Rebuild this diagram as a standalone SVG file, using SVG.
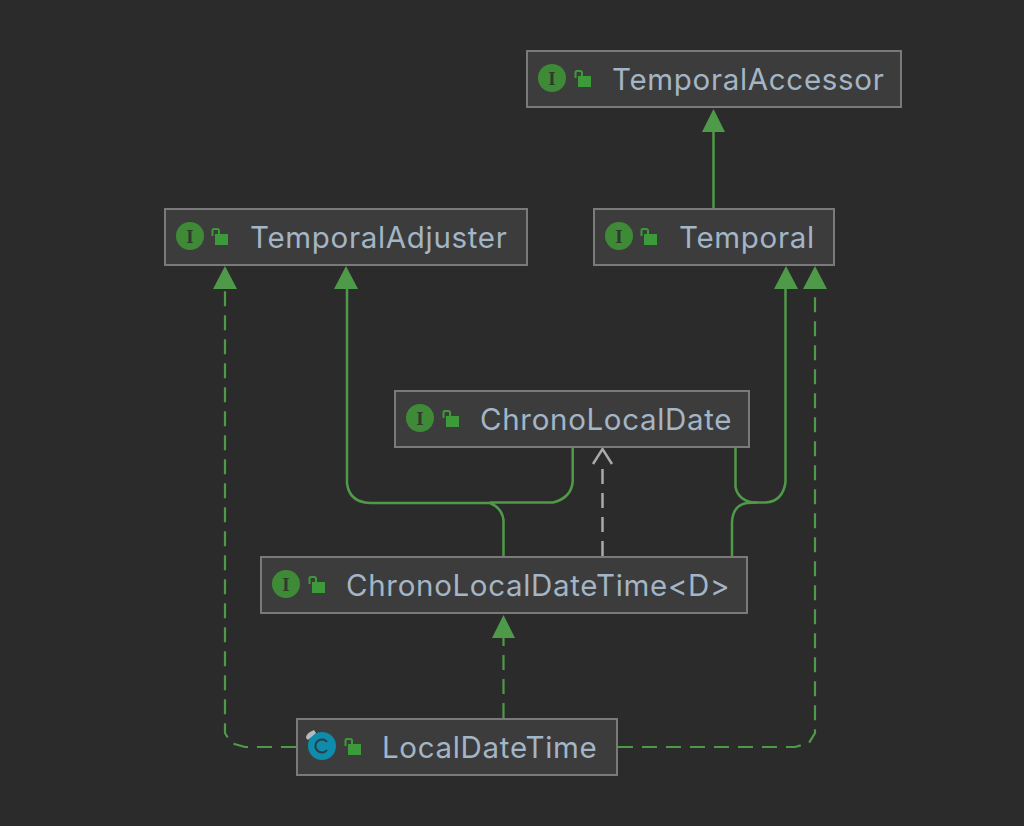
<svg xmlns="http://www.w3.org/2000/svg" width="1024" height="826" viewBox="0 0 1024 826">
<style>
.bg{fill:#2b2b2b}
.box{fill:#3c3c3c;stroke:#7a7a7a;stroke-width:2}
.t{font-family:"Inter","Liberation Sans",sans-serif;font-size:29.500px;fill:#a4b5c6;letter-spacing:.68px}
.ic{fill:#3f8a36}
.il{font-family:"Liberation Serif",serif;font-size:19px;font-weight:bold;fill:#2f3a2d;text-anchor:middle}
.lk{fill:#3c9a3a}
.ls{fill:none;stroke:#3c9a3a;stroke-width:2}
.e{fill:none;stroke:#4f9a48;stroke-width:2.500;stroke-linejoin:round}
.d{stroke-width:2.200;stroke-dasharray:15 9}
.g{fill:none;stroke:#a9a9a9;stroke-width:2.500}
.h{fill:#4f9a48}
</style>
<defs>
<g id="lock"><rect class="lk" x="3" y="5" width="13" height="11"/><path class="ls" d="M0.500 7V1.500Q0.500 0 2 0H5Q7 0 7 1.500V5"/></g>
<g id="ii"><circle class="ic" cx="0" cy="0" r="14"/><text class="il" x="0" y="6.500">I</text></g>
</defs>
<rect class="bg" width="1024" height="826"/>
<g id="connectors">
<path class="e" d="M713.500 208V132"/><path class="h" d="M713.500 109L725 132H702Z"/>
<path class="e" d="M503.500 556V520Q502 508 490 503H370Q349 502 347 483V289"/><path class="h" d="M346 266L358 289H334Z"/>
<path class="e" d="M572.700 448V482Q571 498 553 502.500H490"/>
<path class="e" d="M735.500 448V487Q738 500 753 502.500H766Q783 501 785.500 482V289"/><path class="h" d="M786 266L798 289H774Z"/>
<path class="e" d="M732 556V522Q733 505 747 503L757 502.500"/>
<path class="g d" d="M602.500 556V463"/><path class="g" d="M593 464L602.500 449L612 464"/>
<path class="e d" d="M503.500 718V638"/><path class="h" d="M503.500 615L515 638H492Z"/>
<path class="e d" d="M296 747H245L231 743L225 733V289"/><path class="h" d="M225 266L237 289H213Z"/>
<path class="e d" d="M618 747H795L809 743L815 733V289"/><path class="h" d="M815 266L827 289H803Z"/>
</g>
<g id="TemporalAccessor"><rect class="box" x="527" y="51" width="374" height="56"/><use href="#ii" x="552" y="78"/><use href="#lock" x="575" y="71"/><text class="t" x="612" y="90">TemporalAccessor</text></g>
<g id="TemporalAdjuster"><rect class="box" x="165" y="209" width="362" height="56"/><use href="#ii" x="190" y="236"/><use href="#lock" x="212" y="229"/><text class="t" x="250" y="248">TemporalAdjuster</text></g>
<g id="Temporal"><rect class="box" x="594" y="209" width="240" height="56"/><use href="#ii" x="619" y="236"/><use href="#lock" x="641" y="229"/><text class="t" x="679" y="248">Temporal</text></g>
<g id="ChronoLocalDate"><rect class="box" x="395" y="391" width="354" height="56"/><use href="#ii" x="420" y="418"/><use href="#lock" x="443" y="411"/><text class="t" x="480" y="430">ChronoLocalDate</text></g>
<g id="ChronoLocalDateTime"><rect class="box" x="261" y="557" width="486" height="56"/><use href="#ii" x="286" y="584"/><use href="#lock" x="309" y="577"/><text class="t" x="346" y="596">ChronoLocalDateTime&lt;D&gt;</text></g>
<g id="LocalDateTime"><rect class="box" x="297" y="719" width="320" height="56"/>
<circle cx="322" cy="746" r="14" fill="#0f8bab"/><path d="M327 742A6.500 6.500 0 1 0 327 750" fill="none" stroke="#2b3d44" stroke-width="2"/>
<path d="M306 738Q306 733 314 730L316 733L308 740Z" fill="#b4bcc0"/>
<use href="#lock" x="345" y="739"/><text class="t" x="382" y="758">LocalDateTime</text></g>
</svg>
